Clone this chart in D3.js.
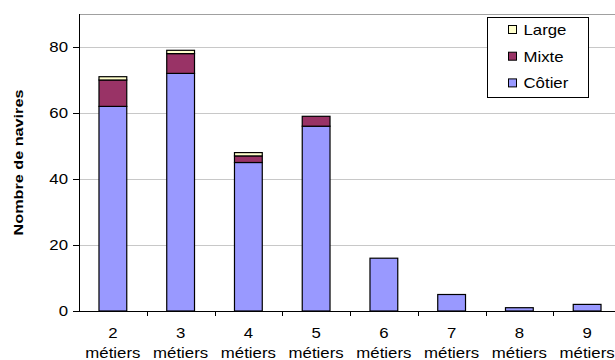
<!DOCTYPE html>
<html>
<head>
<meta charset="utf-8">
<script src="https://cdn.jsdelivr.net/npm/d3@7"></script>
<style>
  body { margin: 0; background: #fff; }
  svg text { font-family: "Liberation Sans", Arial, sans-serif; }
</style>
</head>
<body>
<div id="chart"></div>
<script>
var categories = ["2", "3", "4", "5", "6", "7", "8", "9"];
var cotier = [62, 72, 45, 56, 16, 5, 1, 2];
var mixte = [8, 6, 2, 3, 0, 0, 0, 0];
var large = [1, 1, 1, 0, 0, 0, 0, 0];
var seriesNames = ["Côtier", "Mixte", "Large"];
var seriesColors = ["#9999ff", "#993366", "#ffffcc"];
var yTicks = [0, 20, 40, 60, 80];

var width = 615, height = 360;
var margin = { top: 14, right: -6, bottom: 49, left: 79 };
var w = width - margin.left - margin.right;
var h = height - margin.top - margin.bottom;
var stretch = 1.2; // excel text looks wider than Arial

var svg = d3.select("#chart").append("svg")
    .attr("width", width).attr("height", height);
var g = svg.append("g")
    .attr("transform", "translate(" + margin.left + "," + margin.top + ")");

// text drawn in a scaled group so it gets the wide look
function wideText(parent, tx, ty, anchor, size, str) {
    return parent.append("g")
        .attr("transform", "translate(" + tx + "," + ty + ") scale(" + stretch + ",1)")
        .append("text")
        .attr("text-anchor", anchor)
        .attr("font-size", size)
        .attr("fill", "#000")
        .text(str);
}

var x = d3.scaleBand().domain(categories).range([0, w]).paddingInner(0.59).paddingOuter(0.295);
var xb = d3.scaleBand().domain(categories).range([0, w]);
var y = d3.scaleLinear().domain([0, 90]).range([h, 0]);

// gridlines
g.append("g").selectAll("line").data(yTicks.slice(1)).enter().append("line")
    .attr("x1", 0).attr("x2", w)
    .attr("y1", function (d) { return Math.round(y(d)) + 0.5; })
    .attr("y2", function (d) { return Math.round(y(d)) + 0.5; })
    .attr("stroke", "#c8c8c8");
g.append("line").attr("x1", 0).attr("x2", w).attr("y1", 0.5).attr("y2", 0.5)
    .attr("stroke", "#a0a0a0");

// stacked bars
var rows = categories.map(function (c, i) {
    return { cat: c, "Côtier": cotier[i], "Mixte": mixte[i], "Large": large[i] };
});
var stack = d3.stack().keys(seriesNames)(rows);

g.append("g").selectAll("g").data(stack).enter().append("g")
    .attr("fill", function (d, i) { return seriesColors[i]; })
    .selectAll("rect").data(function (d) { return d.filter(function (p) { return p[1] > p[0]; }); })
    .enter().append("rect")
    .attr("x", function (d) { return x(d.data.cat); })
    .attr("width", x.bandwidth())
    .attr("y", function (d) { return y(d[1]); })
    .attr("height", function (d) { return y(d[0]) - y(d[1]); })
    .attr("stroke", "#000")
    .attr("stroke-width", 1.2);

// y axis
var yAxis = g.append("g")
    .call(d3.axisLeft(y).tickValues(yTicks).tickSize(6).tickFormat(""));
yAxis.select(".domain").attr("d", "M0.5," + h + "V0").attr("stroke", "#000");
yTicks.forEach(function (t) {
    wideText(g, -11, y(t) + 5, "end", 14, t);
});

// x axis
var xAxis = g.append("g").attr("transform", "translate(0," + h + ")");
xAxis.append("line").attr("x1", 0).attr("x2", w).attr("y1", 0.5).attr("y2", 0.5).attr("stroke", "#000");
xAxis.selectAll(".tk").data(categories.slice(1)).enter().append("line")
    .attr("x1", function (d) { return Math.round(xb(d)) + 0.5; })
    .attr("x2", function (d) { return Math.round(xb(d)) + 0.5; })
    .attr("y1", 0).attr("y2", 5).attr("stroke", "#000");
categories.forEach(function (c) {
    var cx = xb(c) + xb.bandwidth() / 2;
    wideText(xAxis, cx, 27, "middle", 14, c);
    wideText(xAxis, cx, 47, "middle", 14, "métiers");
});

// y title
svg.append("g")
    .attr("transform", "translate(23," + (margin.top + h / 2) + ") rotate(-90) scale(1.2,1)")
    .append("text")
    .attr("text-anchor", "middle").attr("font-size", 13.5).attr("font-weight", "bold")
    .text("Nombre de navires");

// legend
var leg = svg.append("g").attr("transform", "translate(487.5,17.5)");
leg.append("rect").attr("width", 101).attr("height", 80)
    .attr("fill", "#fff").attr("stroke", "#000");
var legItems = [2, 1, 0];
legItems.forEach(function (si, k) {
    var ly = 12.5 + k * 26.7;
    leg.append("rect").attr("x", 21).attr("y", ly - 4.5).attr("width", 8).attr("height", 8)
        .attr("fill", seriesColors[si]).attr("stroke", "#000");
    wideText(leg, 36, ly + 5, "start", 14, seriesNames[si]);
});
</script>
</body>
</html>
